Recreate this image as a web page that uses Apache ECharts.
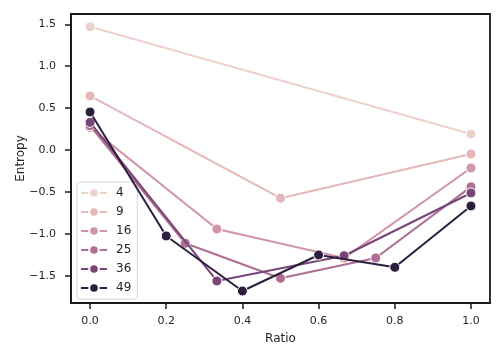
<!DOCTYPE html>
<html>
<head>
<meta charset="utf-8">
<script src="https://cdn.jsdelivr.net/npm/echarts@6/dist/echarts.min.js"></script>
<style>html,body{margin:0;padding:0;background:#fff}#c{width:504px;height:360px}</style>
</head>
<body>
<div id="c"></div>
<script>
// ---- data ----
const seriesNames = ['4', '9', '16', '25', '36', '49'];
const ratio4 = [0, 1];
const entropy4 = [1.47, 0.19];
const ratio9 = [0, 0.5, 1];
const entropy9 = [0.645, -0.575, -0.048];
const ratio16 = [0, 0.333, 0.667, 1];
const entropy16 = [0.27, -0.943, -1.29, -0.215];
const ratio25 = [0, 0.25, 0.5, 0.75, 1];
const entropy25 = [0.29, -1.113, -1.531, -1.289, -0.44];
const ratio36 = [0, 0.333, 0.667, 1];
const entropy36 = [0.33, -1.563, -1.262, -0.513];
const ratio49 = [0, 0.2, 0.4, 0.6, 0.8, 1];
const entropy49 = [0.453, -1.026, -1.683, -1.253, -1.40, -0.668];
const xTicks = [0, 0.2, 0.4, 0.6, 0.8, 1.0];
const yTicks = [-1.5, -1.0, -0.5, 0.0, 0.5, 1.0, 1.5];

const colors = ['#edd1cb', '#e4b8b8', '#d295a5', '#b06d92', '#784577', '#2d1e3e'];
const ratios = [ratio4, ratio9, ratio16, ratio25, ratio36, ratio49];
const entropies = [entropy4, entropy9, entropy16, entropy25, entropy36, entropy49];

const fmt = v => {
  const s = Math.abs(v).toFixed(1);
  return (v < -1e-9 ? '\u2212' : '') + s;
};
const textColor = '#262626';
const axisColor = '#1a1a1a';
const font = 'DejaVu Sans';

const series = seriesNames.map((n, i) => ({
  name: n,
  type: 'line',
  data: ratios[i].map((x, j) => [x, entropies[i][j]]),
  symbol: 'circle',
  symbolSize: 10,
  showSymbol: true,
  lineStyle: { color: colors[i], width: 2 },
  itemStyle: { color: colors[i], borderColor: '#fff', borderWidth: 1 },
  emphasis: { disabled: true },
  z: 2 + i
}));

const chart = echarts.init(document.getElementById('c'), null, { renderer: 'canvas' });
chart.setOption({
  animation: false,
  backgroundColor: '#fff',
  textStyle: { fontFamily: font },
  grid: {
    left: 71, right: 14, top: 14, bottom: 57,
    show: true, borderColor: axisColor, borderWidth: 1.8, backgroundColor: 'transparent'
  },
  xAxis: {
    type: 'value', min: -0.05, max: 1.05,
    name: 'Ratio', nameLocation: 'middle', nameGap: 30,
    nameTextStyle: { fontSize: 12, color: textColor, fontFamily: font },
    axisLine: { show: true, onZero: false, lineStyle: { color: axisColor, width: 1.8 } },
    splitLine: { show: false },
    axisTick: { show: true, length: 6, inside: false, customValues: xTicks, lineStyle: { color: axisColor, width: 1.5 } },
    axisLabel: { customValues: xTicks, formatter: fmt, fontSize: 11, color: textColor, margin: 13, fontFamily: font }
  },
  yAxis: {
    type: 'value', min: -1.826, max: 1.623,
    name: 'Entropy', nameLocation: 'middle', nameGap: 44, nameRotate: 90,
    nameMoveOverlap: false,
    nameTextStyle: { fontSize: 12, color: textColor, fontFamily: font },
    axisLine: { show: true, onZero: false, lineStyle: { color: axisColor, width: 1.8 } },
    splitLine: { show: false },
    axisTick: { show: true, length: 6, inside: false, customValues: yTicks, lineStyle: { color: axisColor, width: 1.5 } },
    axisLabel: { customValues: yTicks, formatter: fmt, fontSize: 11, color: textColor, margin: 15, fontFamily: font }
  },
  legend: {
    orient: 'vertical',
    left: 77, top: 182,
    padding: [5, 6, 5, 3],
    itemWidth: 26, itemHeight: 12, itemGap: 7,
    backgroundColor: 'rgba(255,255,255,0.8)',
    borderColor: '#d6d6d6', borderWidth: 1, borderRadius: 3,
    textStyle: { fontSize: 12, color: textColor, fontFamily: font, padding: [0, 0, 0, 4] },
    data: seriesNames
  },
  series: series
});
</script>
</body>
</html>
